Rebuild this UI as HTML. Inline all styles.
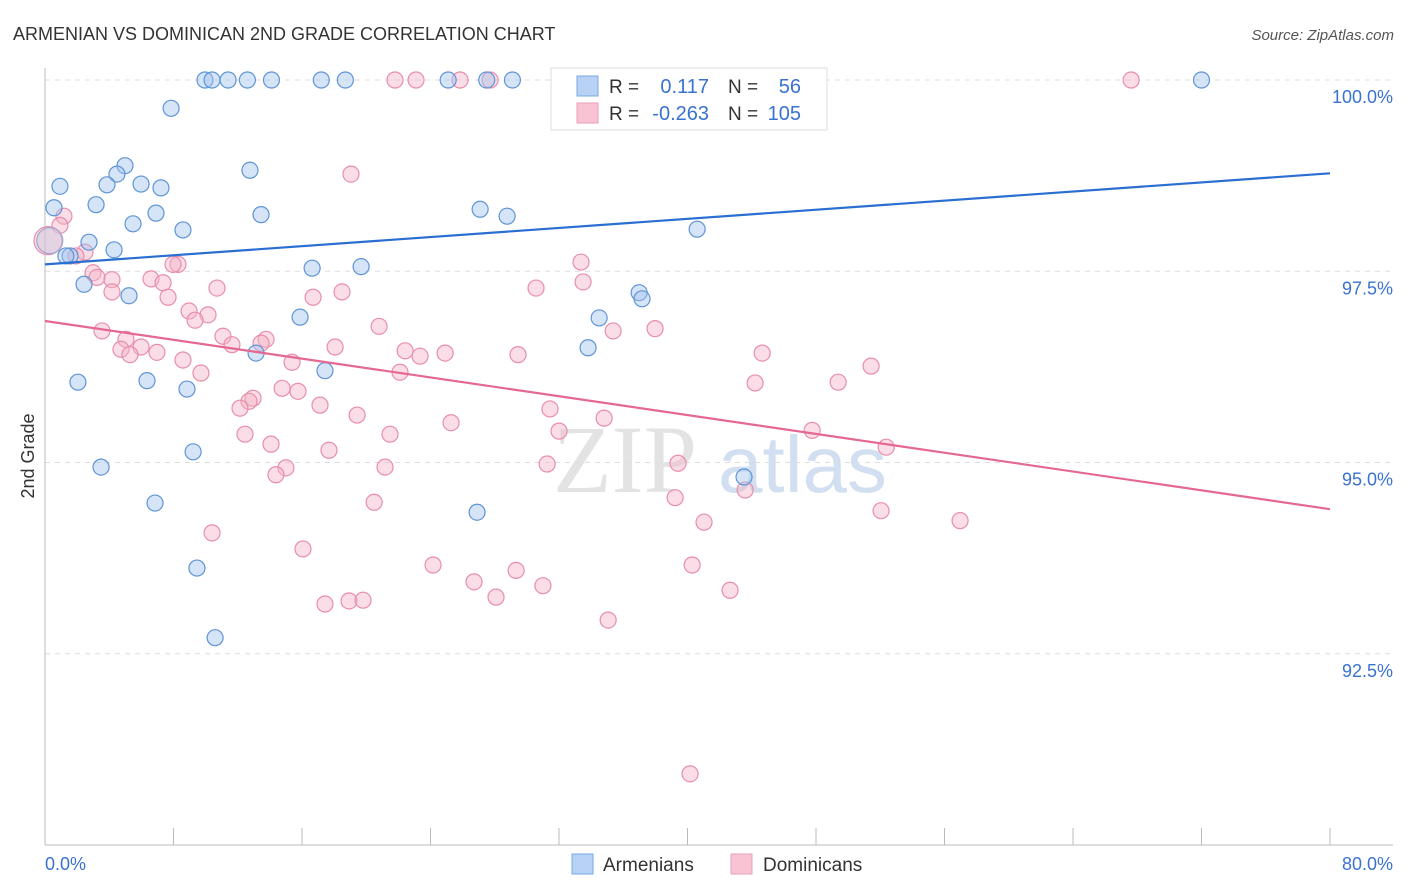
<!DOCTYPE html>
<html><head><meta charset="utf-8"><style>
body{margin:0;background:#fff;font-family:"Liberation Sans",sans-serif;}
svg{display:block}
</style></head><body>
<svg id="chart" width="1406" height="892" viewBox="0 0 1406 892" xmlns="http://www.w3.org/2000/svg">
<text x="13" y="40" font-size="18" fill="#333">ARMENIAN VS DOMINICAN 2ND GRADE CORRELATION CHART</text>
<text x="1394" y="40" font-size="15" fill="#555" font-style="italic" text-anchor="end">Source: ZipAtlas.com</text>
<g>
<text x="553" y="492" font-size="96" fill="#ddd" font-family="Liberation Serif,serif" opacity="0.8">ZIP</text>
<text x="718" y="492" font-size="80" fill="#c8d8ee" opacity="0.8">atlas</text>
</g>
<g id="grid"></g>
<g id="axes"></g>
<g id="pts"></g>
<g id="trends"></g>
<text transform="translate(34,456) rotate(-90)" font-size="18" fill="#333" text-anchor="middle">2nd Grade</text>
<g>
<rect x="551" y="68" width="276" height="62" fill="#fff" stroke="#ddd"/>
<rect x="577" y="76" width="21" height="20" fill="#b8d2f6" stroke="#7aa8e0"/>
<rect x="577" y="103" width="21" height="20" fill="#f8c4d4" stroke="#eaa0b8"/>
<text x="609" y="93" font-size="19" fill="#333">R =</text>
<text x="709" y="93" font-size="20" fill="#3a72d0" text-anchor="end">0.117</text>
<text x="728" y="93" font-size="19" fill="#333">N =</text>
<text x="801" y="93" font-size="20" fill="#3a72d0" text-anchor="end">56</text>
<text x="609" y="120" font-size="19" fill="#333">R =</text>
<text x="709" y="120" font-size="20" fill="#3a72d0" text-anchor="end">-0.263</text>
<text x="728" y="120" font-size="19" fill="#333">N =</text>
<text x="801" y="120" font-size="20" fill="#3a72d0" text-anchor="end">105</text>
</g>
<g>
<rect x="572" y="854" width="21" height="20" fill="#b8d2f6" stroke="#7aa8e0"/>
<text x="603" y="871" font-size="19" fill="#333">Armenians</text>
<rect x="731" y="854" width="21" height="20" fill="#f8c4d4" stroke="#eaa0b8"/>
<text x="763" y="871" font-size="19" fill="#333">Dominicans</text>
</g>
</svg>
<script>
const xDomain=[0,80];
const yDomain=[90,100];
const yTicks=[100,97.5,95,92.5];
const yTickLabels=["100.0%","97.5%","95.0%","92.5%"];
const xTickVals=[0,8,16,24,32,40,48,56,64,72,80];
const armX=[9.96,10.4,11.4,12.6,14.1,17.2,18.7,25.1,27.5,29.1,72.0,32.8,7.85,4.98,12.76,0.93,4.48,3.86,5.98,7.22,3.18,0.56,6.91,13.45,27.09,28.77,5.48,8.59,40.6,2.74,4.30,1.56,1.3,16.63,19.68,2.43,5.23,36.99,37.17,15.88,34.5,33.81,13.14,17.43,2.05,6.35,8.84,9.22,3.49,43.52,6.85,26.9,9.46,10.59];
const armY=[100,100,100,100,100,100,100,100,100,100,100,100,99.63,98.88,98.82,98.61,98.77,98.63,98.64,98.59,98.37,98.33,98.26,98.24,98.31,98.22,98.12,98.04,98.05,97.88,97.78,97.70,97.70,97.54,97.56,97.33,97.18,97.22,97.14,96.90,96.89,96.50,96.43,96.20,96.05,96.07,95.96,95.14,94.94,94.81,94.47,94.35,93.62,92.71];
const domX=[21.79,23.10,25.84,27.71,32.75,45.45,67.62,19.05,1.18,0.93,2.49,1.93,8.28,7.97,2.99,3.24,4.17,6.60,7.35,10.71,4.17,7.66,18.49,16.69,30.57,33.37,33.5,8.97,10.15,9.34,20.80,3.55,35.37,37.98,11.08,13.76,13.45,11.64,5.04,5.98,4.73,5.29,6.97,18.06,22.42,23.35,24.91,29.45,44.65,8.59,15.38,22.10,51.43,9.71,44.21,49.38,14.76,15.75,12.95,12.70,12.14,17.12,19.43,31.44,34.81,25.28,12.45,21.48,32.0,47.76,14.07,17.68,52.37,15.0,14.38,21.17,31.26,39.41,43.59,20.49,39.23,52.05,41.03,56.97,10.40,16.06,24.16,40.29,29.33,26.71,31.0,28.08,42.65,17.43,18.93,19.80,35.06,40.16];
const domY=[100,100,100,100,100,100,100,98.77,98.22,98.10,97.75,97.70,97.59,97.59,97.48,97.42,97.39,97.40,97.35,97.28,97.23,97.16,97.23,97.16,97.28,97.62,97.36,96.98,96.93,96.86,96.78,96.72,96.72,96.75,96.65,96.61,96.56,96.54,96.61,96.51,96.48,96.41,96.44,96.51,96.46,96.39,96.43,96.41,96.43,96.34,96.31,96.18,96.26,96.17,96.04,96.05,95.97,95.93,95.84,95.80,95.71,95.75,95.62,95.70,95.58,95.52,95.37,95.37,95.41,95.42,95.24,95.16,95.20,94.93,94.84,94.94,94.98,94.99,94.64,94.48,94.54,94.37,94.22,94.24,94.08,93.87,93.66,93.66,93.59,93.44,93.39,93.24,93.33,93.15,93.19,93.20,92.94,90.93];
const bigArm=[0.3,97.9];
const bigDom=[0.19,97.9];
const armTrend=[97.59,98.78];
const domTrend=[96.85,94.39];
const NS="http://www.w3.org/2000/svg";
const X0=45,X1=1330,Y0=80,Y1=845;
function sx(v){return X0+(v-xDomain[0])/(xDomain[1]-xDomain[0])*(X1-X0);}
function sy(v){return Y0+(yDomain[1]-v)/(yDomain[1]-yDomain[0])*(Y1-Y0);}
function mk(tag,attrs,parent){const e=document.createElementNS(NS,tag);for(const k in attrs)e.setAttribute(k,attrs[k]);document.getElementById(parent).appendChild(e);return e;}
yTicks.forEach((t,i)=>{
 const l=mk('line',{x1:X0,x2:1393,y1:sy(t),y2:sy(t),stroke:'#ddd','stroke-dasharray':'5,5'},'grid');
 
 
 const tx=mk('text',{x:1393,y:sy(t)+23,'font-size':18,fill:'#3a72d0','text-anchor':'end'},'axes');
 tx.textContent=yTickLabels[i];
 
 
});
const ya=mk('line',{x1:X0,x2:X0,y1:68,y2:Y1,stroke:'#bbb'},'axes');


const xa=mk('line',{x1:X0,x2:1393,y1:Y1,y2:Y1,stroke:'#bbb'},'axes');


xTickVals.forEach(v=>{
 const t=mk('line',{x1:sx(v),x2:sx(v),y1:828,y2:Y1,stroke:'#bbb'},'axes');
 
 
});
const xl=mk('text',{x:45,y:870,'font-size':18,fill:'#3a72d0'},'axes');xl.textContent='0.0%';


const xr=mk('text',{x:1393,y:870,'font-size':18,fill:'#3a72d0','text-anchor':'end'},'axes');xr.textContent='80.0%';


function dot(x,y,r,fill,stroke,name){
 const c=mk('circle',{cx:sx(x),cy:sy(y),r:r,fill:fill,'fill-opacity':0.45,stroke:stroke,'stroke-width':1.2},'pts');
 
 
}
domX.forEach((x,i)=>dot(x,domY[i],8,'#f4b4c8','#e88eab','dominican-point'));
armX.forEach((x,i)=>dot(x,armY[i],8,'#a4c4ee','#5f94d6','armenian-point'));
dot(bigDom[0],bigDom[1],14,'#f4b4c8','#e88eab','dominican-point-large');
dot(bigArm[0],bigArm[1],13,'#c8c8e0','#a0a8d0','armenian-point-large');
const t1=mk('line',{x1:sx(0),y1:sy(armTrend[0]),x2:sx(80),y2:sy(armTrend[1]),stroke:'#2a6ed2','stroke-width':2.2},'trends');


const t2=mk('line',{x1:sx(0),y1:sy(domTrend[0]),x2:sx(80),y2:sy(domTrend[1]),stroke:'#e46892','stroke-width':2.2},'trends');


</script>
</body></html>
